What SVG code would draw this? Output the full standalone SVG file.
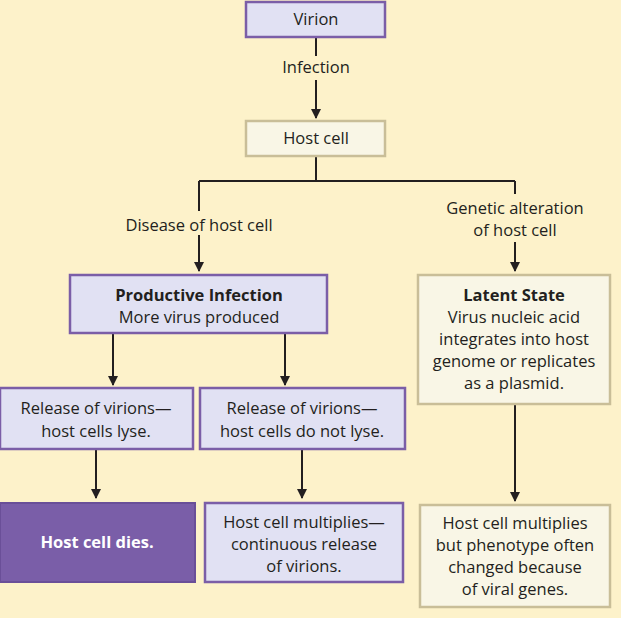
<svg xmlns="http://www.w3.org/2000/svg" width="621" height="618" viewBox="0 0 621 618">
<defs>
<marker id="ah" viewBox="0 0 10 10" refX="9" refY="5" markerWidth="5" markerHeight="5" orient="auto"><path d="M0,0 L10,5 L0,10 z" fill="#231f20"/></marker>
</defs>
<style>
text{font-family:"Open Sans","Liberation Sans",sans-serif;font-size:16.5px;fill:#231f20;text-anchor:middle}
.b{font-weight:bold}
.p{fill:#e1e1f3;stroke:#7b5ea7;stroke-width:2.5}
.c{fill:#f9f6e6;stroke:#c9be98;stroke-width:2.5}
.d{fill:#7a5ea8;stroke:#6a4f98;stroke-width:2}
.w{fill:#fff;font-weight:bold}
.l{stroke:#231f20;stroke-width:2;fill:none}
.a{marker-end:url(#ah)}
.bg{fill:#fdf2ca}
</style>
<rect width="621" height="618" fill="#fdf2ca"/>
<g id="connectors">
<path class="l" d="M316,37 V56"/>
<path class="l a" d="M316,80 V118"/>
<path class="l" d="M316,156 V181 M199,181 H515"/>
<path class="l a" d="M199,181 V271"/>
<path class="l a" d="M515,181 V271"/>
<path class="l a" d="M113,333 V385"/>
<path class="l a" d="M285,333 V385"/>
<path class="l a" d="M96,449 V498"/>
<path class="l a" d="M302,449 V498"/>
<path class="l a" d="M515,404 V501"/>
<rect class="bg" x="110" y="211" width="180" height="24"/>
<rect class="bg" x="430" y="194" width="170" height="48"/>
<text x="316" y="73">Infection</text>
<text x="199" y="231">Disease of host cell</text>
<text x="515" y="214">Genetic alteration</text>
<text x="515" y="236">of host cell</text>
</g>
<g id="virion"><rect class="p" x="246" y="2" width="139" height="35"/><text x="316" y="25">Virion</text></g>
<g id="hostcell"><rect class="c" x="246" y="121" width="139" height="35"/><text x="316" y="144">Host cell</text></g>
<g id="productive"><rect class="p" x="70" y="275" width="257" height="58"/><text class="b" x="199" y="301">Productive Infection</text><text x="199" y="323">More virus produced</text></g>
<g id="latent"><rect class="c" x="418" y="275" width="192" height="129"/><text class="b" x="514" y="301">Latent State</text><text x="514" y="323">Virus nucleic acid</text><text x="514" y="345">integrates into host</text><text x="514" y="367">genome or replicates</text><text x="514" y="389">as a plasmid.</text></g>
<g id="lyse"><rect class="p" x="0" y="388" width="193" height="61"/><text x="96" y="414">Release of virions—</text><text x="96" y="437">host cells lyse.</text></g>
<g id="nolyse"><rect class="p" x="200" y="388" width="205" height="61"/><text x="302" y="414">Release of virions—</text><text x="302" y="437">host cells do not lyse.</text></g>
<g id="dies"><rect class="d" x="0" y="503" width="195" height="79"/><text class="w" x="97" y="548">Host cell dies.</text></g>
<g id="multiplies"><rect class="p" x="205" y="503" width="198" height="79"/><text x="304" y="528">Host cell multiplies—</text><text x="304" y="550">continuous release</text><text x="304" y="572">of virions.</text></g>
<g id="phenotype"><rect class="c" x="420" y="505" width="190" height="102"/><text x="515" y="529">Host cell multiplies</text><text x="515" y="551">but phenotype often</text><text x="515" y="573">changed because</text><text x="515" y="595">of viral genes.</text></g>
</svg>
